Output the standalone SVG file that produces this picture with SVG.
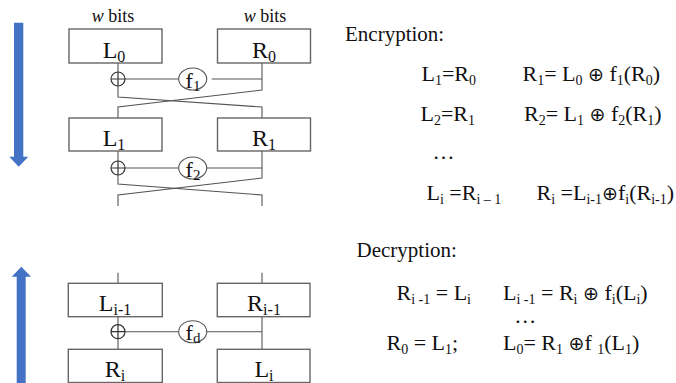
<svg xmlns="http://www.w3.org/2000/svg" width="676" height="383" viewBox="0 0 676 383">
<defs>
<style>
.box{fill:#fff;stroke:#666;stroke-width:1.4}
.ln{fill:none;stroke:#555;stroke-width:1.1}
.xor{fill:none;stroke:#333;stroke-width:1.2}
.fn{fill:#fff;stroke:#555;stroke-width:1.1}
.arrow{fill:#4472C4}
text{font-family:"Liberation Serif","DejaVu Serif",serif;fill:#111}
.op{font-family:"DejaVu Sans",sans-serif;font-size:19px}
.lbl{font-size:24px;text-anchor:middle}
.fl{font-size:22px;text-anchor:middle}
.eq{font-size:22px}
.hd{font-size:21px}
.wb{font-size:18px;text-anchor:middle}
</style>
</defs>
<rect width="676" height="383" fill="#fff"/>

<g id="arrow-down"><polygon class="arrow" points="14,22.7 23.3,22.7 23.3,156.7 28.3,156.7 18.7,166.7 9.3,156.7 14,156.7"/></g>
<g id="arrow-up"><polygon class="arrow" points="21.3,266.7 31,276.7 25.7,276.7 25.7,383 16.7,383 16.7,276.7 11.7,276.7"/></g>

<g id="connectors">
<path class="ln" d="M118,63V72M118,86V97L262,107V118M262,63V90L118,107V118M125,79H178.7M211.7,79H262"/>
<path class="ln" d="M118,151V161M118,175V184L262,195V206M262,151V178L118,195V206M125,168H178.7M206.7,168H262"/>
<path class="ln" d="M118,272.7V283.3M262,272.7V283.3M118,317V324.7M118,338.7V349.3M262,317V349.3M125,331.7H178.7M206.7,331.7H262"/>
</g>

<text class="wb" x="113" y="22"><tspan font-style="italic">w</tspan> bits</text>
<text class="wb" x="265" y="22"><tspan font-style="italic">w</tspan> bits</text>

<g id="L0"><rect class="box" x="69" y="29" width="93" height="34"/><text class="lbl" x="114" y="58">L<tspan font-size="16" dy="4">0</tspan></text></g>
<g id="R0"><rect class="box" x="217.5" y="29" width="93" height="34"/><text class="lbl" x="264" y="58">R<tspan font-size="16" dy="4">0</tspan></text></g>
<g id="xor1"><circle class="xor" cx="118" cy="79" r="7"/><path class="xor" d="M111,79H125M118,72V86"/></g>
<g id="f1"><ellipse class="fn" cx="192.7" cy="79" rx="14" ry="11"/><text class="fl" x="193" y="88">f<tspan font-size="15" dy="3">1</tspan></text></g>

<g id="L1"><rect class="box" x="69" y="118" width="93" height="33"/><text class="lbl" x="114" y="146">L<tspan font-size="16" dy="4">1</tspan></text></g>
<g id="R1"><rect class="box" x="217.5" y="118" width="93" height="33"/><text class="lbl" x="264" y="146">R<tspan font-size="16" dy="4">1</tspan></text></g>
<g id="xor2"><circle class="xor" cx="118" cy="168" r="7"/><path class="xor" d="M111,168H125M118,161V175"/></g>
<g id="f2"><ellipse class="fn" cx="192.7" cy="168" rx="14" ry="11"/><text class="fl" x="193" y="177">f<tspan font-size="15" dy="3">2</tspan></text></g>

<g id="Li-1"><rect class="box" x="68.3" y="283.3" width="94" height="33.4"/><text class="lbl" x="115" y="311">L<tspan font-size="16" dy="4">i-1</tspan></text></g>
<g id="Ri-1"><rect class="box" x="217.3" y="283.3" width="92.7" height="33.4"/><text class="lbl" x="264" y="311">R<tspan font-size="16" dy="4">i-1</tspan></text></g>
<g id="xord"><circle class="xor" cx="118" cy="331.7" r="7"/><path class="xor" d="M111,331.7H125M118,324.7V338.7"/></g>
<g id="fd"><ellipse class="fn" cx="192.7" cy="331.7" rx="14" ry="11"/><text class="fl" x="193" y="340">f<tspan font-size="15" dy="3">d</tspan></text></g>
<g id="Ri"><rect class="box" x="68.3" y="349.3" width="94" height="33.2"/><text class="lbl" x="115" y="377">R<tspan font-size="16" dy="4">i</tspan></text></g>
<g id="Li"><rect class="box" x="217.3" y="349.3" width="92.7" height="33.2"/><text class="lbl" x="264" y="377">L<tspan font-size="16" dy="4">i</tspan></text></g>

<g id="encryption">
<text class="hd" x="345" y="41">Encryption:</text>
<text class="eq" x="421.5" y="81">L<tspan font-size="14" dy="4">1</tspan><tspan dy="-4">=R</tspan><tspan font-size="14" dy="4">0</tspan></text>
<text class="eq" x="522.5" y="81">R<tspan font-size="14" dy="4">1</tspan><tspan dy="-4">= L</tspan><tspan font-size="14" dy="4">0</tspan><tspan dy="-4"> </tspan><tspan class="op">⊕</tspan><tspan> f</tspan><tspan font-size="14" dy="4">1</tspan><tspan dy="-4">(R</tspan><tspan font-size="14" dy="4">0</tspan><tspan dy="-4">)</tspan></text>
<text class="eq" x="420.5" y="121">L<tspan font-size="14" dy="4">2</tspan><tspan dy="-4">=R</tspan><tspan font-size="14" dy="4">1</tspan></text>
<text class="eq" x="524" y="121">R<tspan font-size="14" dy="4">2</tspan><tspan dy="-4">= L</tspan><tspan font-size="14" dy="4">1</tspan><tspan dy="-4"> </tspan><tspan class="op">⊕</tspan><tspan> f</tspan><tspan font-size="14" dy="4">2</tspan><tspan dy="-4">(R</tspan><tspan font-size="14" dy="4">1</tspan><tspan dy="-4">)</tspan></text>
<text class="eq" x="432.6" y="159">…</text>
<text class="eq" x="426.5" y="200">L<tspan font-size="14" dy="4">i</tspan><tspan dy="-4"> =R</tspan><tspan font-size="14" dy="4">i – 1</tspan></text>
<text class="eq" x="536.5" y="200">R<tspan font-size="14" dy="4">i</tspan><tspan dy="-4"> =L</tspan><tspan font-size="14" dy="4">i-1</tspan><tspan class="op" dy="-4">⊕</tspan><tspan>f</tspan><tspan font-size="14" dy="4">i</tspan><tspan dy="-4">(R</tspan><tspan font-size="14" dy="4">i-1</tspan><tspan dy="-4">)</tspan></text>
</g>

<g id="decryption">
<text class="hd" x="356.5" y="257">Decryption:</text>
<text class="eq" x="396.5" y="300">R<tspan font-size="14" dy="4">i -1</tspan><tspan dy="-4"> = L</tspan><tspan font-size="14" dy="4">i</tspan></text>
<text class="eq" x="503" y="300">L<tspan font-size="14" dy="4">i -1</tspan><tspan dy="-4"> = R</tspan><tspan font-size="14" dy="4">i</tspan><tspan dy="-4"> </tspan><tspan class="op">⊕</tspan><tspan> f</tspan><tspan font-size="14" dy="4">i</tspan><tspan dy="-4">(L</tspan><tspan font-size="14" dy="4">i</tspan><tspan dy="-4">)</tspan></text>
<text class="eq" x="514.3" y="323">…</text>
<text class="eq" x="386.5" y="350">R<tspan font-size="14" dy="4">0</tspan><tspan dy="-4"> = L</tspan><tspan font-size="14" dy="4">1</tspan><tspan dy="-4">;</tspan></text>
<text class="eq" x="503" y="350">L<tspan font-size="14" dy="4">0</tspan><tspan dy="-4">= R</tspan><tspan font-size="14" dy="4">1</tspan><tspan dy="-4"> </tspan><tspan class="op">⊕</tspan><tspan>f </tspan><tspan font-size="14" dy="4">1</tspan><tspan dy="-4">(L</tspan><tspan font-size="14" dy="4">1</tspan><tspan dy="-4">)</tspan></text>
</g>
</svg>
